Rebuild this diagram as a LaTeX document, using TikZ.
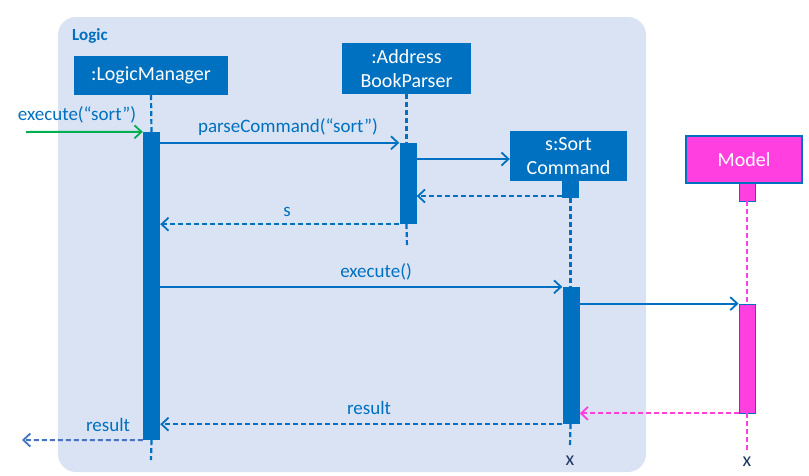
\documentclass[tikz,border=0pt]{standalone}
\usepackage{fontspec}
\setmainfont{Carlito}
\usetikzlibrary{arrows.meta,calc}
\definecolor{blu}{HTML}{0070C0}
\definecolor{bg}{HTML}{DAE3F3}
\definecolor{mag}{HTML}{FF3FE0}
\definecolor{dk}{HTML}{203864}
\definecolor{grn}{HTML}{00B050}
\definecolor{rb}{HTML}{4472C4}
\begin{document}
\begin{tikzpicture}[x=1pt,y=-1pt,
  obj/.style={fill=blu, text=white, font=\fontsize{20}{24}\selectfont, inner sep=0, align=center},
  bar/.style={fill=blu, minimum width=17, inner sep=0},
  mbarstyle/.style={fill=mag, draw=blu, line width=0.8, minimum width=16, inner sep=0},
  life/.style={blu, line width=2.2, dash pattern=on 5 off 3},
  msg/.style={blu, line width=2, -{Straight Barb[length=7,width=13,line width=1.8]}},
  ret/.style={blu, line width=2, dash pattern=on 5 off 3, -{Straight Barb[length=7,width=13,line width=1.8]}},
  lbl/.style={text=blu, font=\fontsize{19}{22}\selectfont, inner sep=0},
  xlbl/.style={text=dk, font=\fontsize{20}{22}\selectfont, inner sep=0}
]
\useasboundingbox (0,0) rectangle (809,475);
% frame
\node[fill=bg, rounded corners=18, minimum width=588, minimum height=455, inner sep=0] (frame) at (352,244.5) {};
\node[text=blu, font=\bfseries\fontsize{17}{19}\selectfont, anchor=west, inner sep=0] (logic) at (72,36) {Logic};
% objects
\node[obj, minimum width=154, minimum height=39] (lm) at (151,75.5) {:LogicManager};
\node[obj, minimum width=129, minimum height=51] (abp) at (406.5,68.5) {:Address\\BookParser};
\node[obj, minimum width=117, minimum height=50] (sc) at (568.5,156) {s:Sort\\Command};
\node[obj, fill=mag, draw=blu, line width=1.5, minimum width=116, minimum height=47] (model) at (744,159.5) {Model};
% activation bars
\node[bar, minimum height=308] (lmbar) at (151.5,286) {};
\node[bar, minimum height=81] (abpbar) at (408,183.5) {};
\node[bar, minimum height=17] (scbar0) at (570.5,189.5) {};
\node[bar, minimum height=137] (scbar) at (571,355.5) {};
\node[mbarstyle, minimum height=18] (mbar0) at (747,192) {};
\node[mbarstyle, minimum height=109] (mbar) at (747,358.5) {};
% lifeline ends
\coordinate (lmend) at (151,460);
\coordinate (abpend) at (407,248);
\coordinate (scend) at (570,447);
\coordinate (mend) at (747,450);
% lifelines
\draw[life] (lm.south) -- (lmbar.north);
\draw[life] (lmbar.south) -- (lmend);
\draw[life] (abp.south) -- (abp.south |- abpbar.north);
\draw[life] (abp.south |- abpbar.south) -- (abpend);
\draw[life] (scbar0.south) -- (scbar.north -| scbar0.south);
\draw[life] (scbar.south -| scbar0.south) -- (scend);
\draw[life, mag] (mbar0.south) -- (mbar.north);
\draw[life, mag] (mbar.south) -- (mend);
\node[xlbl] (x1) at (570,461) {x};
\node[xlbl] (x2) at (747,462) {x};
% messages
\coordinate (gstart) at (26,132);
\draw[msg, grn] (gstart) -- (lmbar.north west);
\node[lbl] (l1) at (77,115) {execute(“sort”)};
\draw[msg] (lmbar.east |- abpbar.north) -- (abpbar.north west);
\node[lbl] (l2) at (288,127) {parseCommand(“sort”)};
\draw[msg] (abpbar.east |- 0,159) -- (sc.west |- 0,159);
\draw[ret] (scbar0.west |- 0,196) -- (abpbar.east |- 0,196);
\draw[ret] (abpbar.south west) -- (lmbar.east |- abpbar.south);
\node[lbl] (l3) at (287,212) {s};
\draw[msg] (lmbar.east |- scbar.north) -- (scbar.north west);
\node[lbl] (l4) at (376,272) {execute()};
\draw[msg] (scbar.east |- mbar.north) -- (mbar.north west);
\draw[ret, mag] (mbar.south west) -- (scbar.east |- mbar.south);
\draw[ret] (scbar.south west) -- (lmbar.east |- scbar.south);
\node[lbl] (l5) at (369,408) {result};
\coordinate (rend) at (22,440);
\draw[ret, rb] (lmbar.south west) -- (rend);
\node[lbl] (l6) at (108,425) {result};
\end{tikzpicture}
\end{document}
